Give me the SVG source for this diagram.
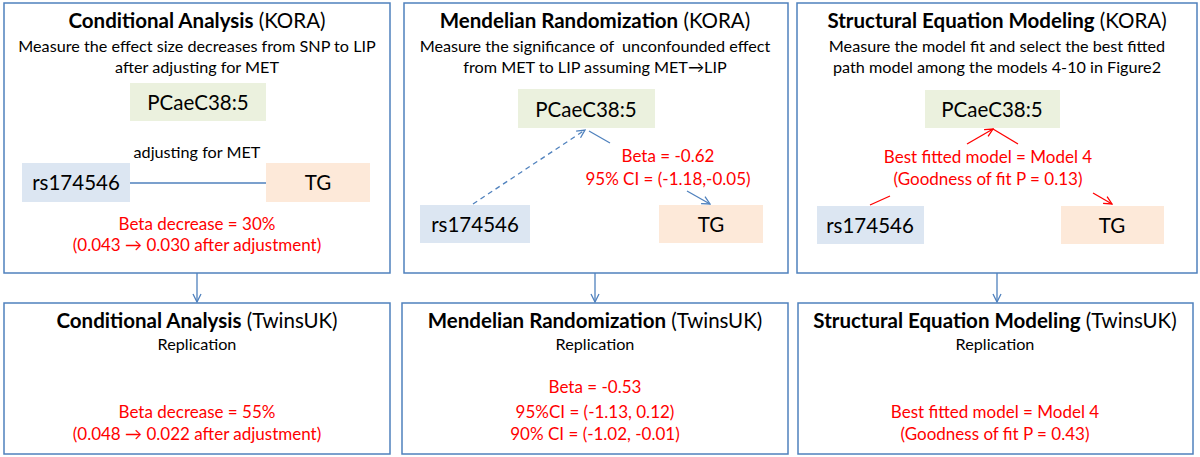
<svg xmlns="http://www.w3.org/2000/svg" width="1200" height="457" viewBox="0 0 1200 457">
<style>
.panel{fill:#fff;stroke:#4F81BD;stroke-width:1.5}
text{font-family:Lato,"Liberation Sans",Arial,sans-serif;text-anchor:middle}
.t{font-size:20.5px;fill:#000}
.b{font-weight:bold}
.s{font-size:16.2px;fill:#000}
.r{font-size:17px;fill:#FF0000}
.n{font-size:20.5px;fill:#000}
.met{fill:#EBF1DE}
.snp{fill:#DCE6F2}
.lip{fill:#FDE9D9}
.bl{stroke:#4F81BD;stroke-width:1.3;fill:none}
.rl{stroke:#FF0000;stroke-width:1.3;fill:none}
</style>
<defs>
<marker id="ab" markerWidth="10" markerHeight="10" refX="9" refY="5" orient="auto" markerUnits="userSpaceOnUse"><path d="M1,1 L9,5 L1,9" fill="none" stroke="#4F81BD" stroke-width="1.3"/></marker>
<marker id="ar" markerWidth="10" markerHeight="10" refX="9" refY="5" orient="auto" markerUnits="userSpaceOnUse"><path d="M1,1 L9,5 L1,9" fill="none" stroke="#FF0000" stroke-width="1.3"/></marker>
</defs>
<rect width="1200" height="457" fill="#fff"/>

<g id="ca-kora">
<rect class="panel" x="4" y="3" width="386" height="270"/>
<text class="t" x="197" y="28"><tspan class="b">Conditional Analysis</tspan> (KORA)</text>
<text class="s" x="197" y="52">Measure the effect size decreases from SNP to LIP</text>
<text class="s" x="197" y="73">after adjusting for MET</text>
<rect class="met" x="130" y="83" width="136" height="38"/>
<text class="n" x="198" y="110">PCaeC38:5</text>
<text class="s" x="197" y="158">adjusting for MET</text>
<rect class="snp" x="22" y="163" width="108" height="39"/>
<text class="n" x="76" y="190">rs174546</text>
<rect class="lip" x="266" y="163" width="104" height="39"/>
<text class="n" x="318" y="190">TG</text>
<text class="r" x="197" y="230">Beta decrease = 30%</text>
<text class="r" x="197" y="251">(0.043 → 0.030 after adjustment)</text>
</g>

<g id="mr-kora">
<rect class="panel" x="404" y="3" width="384" height="270"/>
<text class="t" x="595" y="28"><tspan class="b">Mendelian Randomization</tspan> (KORA)</text>
<text class="s" x="595" y="52">Measure the significance of&#160; unconfounded effect</text>
<text class="s" x="595" y="73">from MET to LIP assuming MET→LIP</text>
<rect class="met" x="518" y="89" width="137" height="39"/>
<text class="n" x="586" y="117">PCaeC38:5</text>
<rect class="snp" x="420" y="205" width="110" height="38"/>
<text class="n" x="475" y="232">rs174546</text>
<rect class="lip" x="659" y="205" width="104" height="38"/>
<text class="n" x="711" y="232">TG</text>
<text class="r" x="668" y="162">Beta = -0.62</text>
<text class="r" x="668" y="185">95% CI = (-1.18,-0.05)</text>
</g>

<g id="sem-kora">
<rect class="panel" x="797" y="3" width="400" height="270"/>
<text class="t" x="997" y="28"><tspan class="b">Structural Equation Modeling</tspan> (KORA)</text>
<text class="s" x="997" y="52">Measure the model fit and select the best fitted</text>
<text class="s" x="997" y="73">path model among the models 4-10 in Figure2</text>
<rect class="met" x="925" y="90" width="135" height="38"/>
<text class="n" x="992" y="117">PCaeC38:5</text>
<rect class="snp" x="817" y="206" width="107" height="38"/>
<text class="n" x="870" y="233">rs174546</text>
<rect class="lip" x="1061" y="206" width="103" height="38"/>
<text class="n" x="1112" y="233">TG</text>
<text class="r" x="988" y="163">Best fitted model = Model 4</text>
<text class="r" x="988" y="185">(Goodness of fit P = 0.13)</text>
</g>

<g id="ca-twins">
<rect class="panel" x="4" y="303" width="386" height="151"/>
<text class="t" x="197" y="328"><tspan class="b">Conditional Analysis</tspan> (TwinsUK)</text>
<text class="s" x="197" y="350">Replication</text>
<text class="r" x="197" y="418">Beta decrease = 55%</text>
<text class="r" x="197" y="440">(0.048 → 0.022 after adjustment)</text>
</g>

<g id="mr-twins">
<rect class="panel" x="402" y="303" width="386" height="151"/>
<text class="t" x="595" y="328"><tspan class="b">Mendelian Randomization</tspan> (TwinsUK)</text>
<text class="s" x="595" y="350">Replication</text>
<text class="r" x="595" y="393">Beta = -0.53</text>
<text class="r" x="595" y="418">95%CI = (-1.13, 0.12)</text>
<text class="r" x="595" y="440">90% CI = (-1.02, -0.01)</text>
</g>

<g id="sem-twins">
<rect class="panel" x="798" y="303" width="395" height="151"/>
<text class="t" x="995" y="328"><tspan class="b">Structural Equation Modeling</tspan> (TwinsUK)</text>
<text class="s" x="995" y="350">Replication</text>
<text class="r" x="995" y="418">Best fitted model = Model 4</text>
<text class="r" x="995" y="440">(Goodness of fit P = 0.43)</text>
</g>

<g id="connectors">
<line class="bl" x1="130" y1="183" x2="266" y2="183"/>
<line class="bl" x1="473" y1="204" x2="585" y2="130" stroke-dasharray="5,4" marker-end="url(#ab)"/>
<line class="bl" x1="589" y1="131" x2="610" y2="143"/>
<line class="bl" x1="687" y1="191" x2="710" y2="204" marker-end="url(#ab)"/>
<line class="rl" x1="870" y1="205" x2="890" y2="196"/>
<line class="rl" x1="967" y1="144" x2="993" y2="129" marker-end="url(#ar)"/>
<line class="rl" x1="993" y1="129" x2="1018" y2="144"/>
<line class="rl" x1="1093" y1="193" x2="1112" y2="204" marker-end="url(#ar)"/>
<line class="bl" x1="197" y1="273" x2="197" y2="302" marker-end="url(#ab)"/>
<line class="bl" x1="595" y1="273" x2="595" y2="302" marker-end="url(#ab)"/>
<line class="bl" x1="997" y1="273" x2="997" y2="302" marker-end="url(#ab)"/>
</g>
</svg>
